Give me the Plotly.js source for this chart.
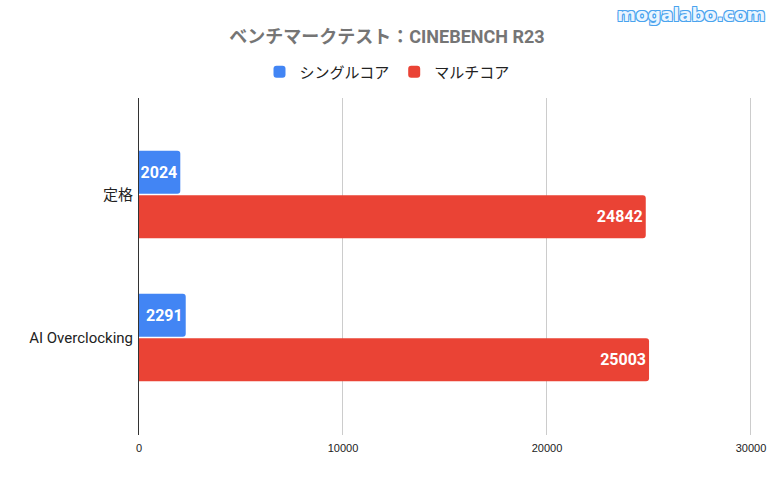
<!DOCTYPE html>
<html><head><meta charset="utf-8">
<script src="https://cdn.plot.ly/plotly-3.0.1.min.js"></script>
<style>html,body{margin:0;padding:0;background:#fff}#c{width:774px;height:479px}</style>
</head><body><div id="c"></div>
<script>
const categories = ['定格', 'AI Overclocking'];
const seriesNames = ['シングルコア', 'マルチコア'];
const singleCore = [2024, 2291];
const multiCore = [24842, 25003];
const xTicks = [0, 10000, 20000, 30000];
const colors = ['#4285f4', '#ea4335'];

const labelFont = {family: 'Roboto, sans-serif', size: 16, color: '#ffffff', weight: 700};
function mk(name, vals, color) {
  return {
    type: 'bar', orientation: 'h', name: name,
    y: categories, x: vals,
    text: vals.map(String), textposition: 'inside', insidetextanchor: 'end',
    constraintext: 'none', textangle: 0,
    textfont: labelFont, insidetextfont: labelFont,
    marker: {color: color, cornerradius: 3},
    hoverinfo: 'none'
  };
}
const data = [mk(seriesNames[0], singleCore, colors[0]), mk(seriesNames[1], multiCore, colors[1])];

const layout = {
  width: 774, height: 479,
  margin: {l: 139, r: 22, t: 98, b: 44},
  paper_bgcolor: '#ffffff', plot_bgcolor: '#ffffff',
  barmode: 'group', bargap: 0.378, bargroupgap: 0.035,
  title: {text: '<b>ベンチマークテスト：CINEBENCH R23</b>', x: 0.5, xanchor: 'center',
    y: 1 - 37/479, yref: 'container', yanchor: 'middle',
    font: {family: 'Roboto, "Noto Sans CJK JP", sans-serif', size: 18, color: '#757575'}},
  showlegend: true,
  legend: {orientation: 'h', x: 0.5, xref: 'container', xanchor: 'center',
    y: 1 - 72/479, yref: 'container', yanchor: 'middle', itemwidth: 30,
    font: {family: 'Roboto, "Noto Sans CJK JP", sans-serif', size: 15, color: '#222222'},
    itemsizing: 'constant', traceorder: 'normal'},
  xaxis: {range: [0, 30050], tickvals: xTicks, ticktext: xTicks.map(String),
    showgrid: true, gridcolor: '#cccccc', gridwidth: 1, zeroline: false,
    showline: false, ticks: '', fixedrange: true, ticklabelstandoff: 5,
    tickfont: {family: '"Liberation Sans", Arial, sans-serif', size: 11, color: '#222222'}},
  yaxis: {type: 'category', range: [1.682, -0.675], showline: true, linecolor: '#333333', linewidth: 1,
    showgrid: false, ticks: '', ticklabelstandoff: 2,
    tickfont: {family: 'Roboto, "Noto Sans CJK JP", sans-serif', size: 15, color: '#222222'}},
  annotations: [{text: 'mogalabo.com', xref: 'paper', yref: 'paper', x: 1.025, y: (435 - 14) / 337,
    xanchor: 'right', yanchor: 'middle', showarrow: false,
    font: {family: '"DejaVu Sans", sans-serif', size: 18, color: '#eaf5ff', weight: 700,
      shadow: '1px 1px 0 #4aa3ee, -1px -1px 0 #4aa3ee, 1px -1px 0 #4aa3ee, -1px 1px 0 #4aa3ee'}}]
};
Plotly.newPlot('c', data, layout, {displayModeBar: false, staticPlot: true});
</script>
</body></html>
